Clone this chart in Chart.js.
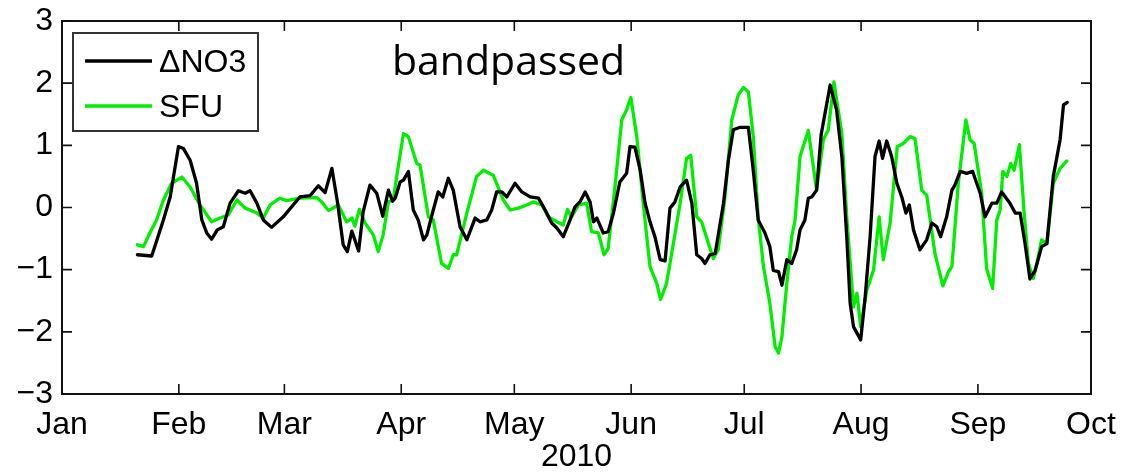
<!DOCTYPE html>
<html>
<head>
<meta charset="utf-8">
<script src="https://cdn.jsdelivr.net/npm/chart.js@4/dist/chart.umd.min.js"></script>
<style>
  html, body { margin: 0; padding: 0; background: #fff; }
  #wrap { width: 1126px; height: 474px; }
</style>
</head>
<body>
<div id="wrap"><canvas id="chart" width="1126" height="474"></canvas></div>
<script>
// Day-of-year positions (0 = 1 Jan 2010) of the month ticks and their labels
const monthTicks = [0, 31, 59, 90, 120, 151, 181, 212, 243, 273];
const monthLabels = ['Jan', 'Feb', 'Mar', 'Apr', 'May', 'Jun', 'Jul', 'Aug', 'Sep', 'Oct'];
const yearLabel = '2010';
const panelNote = 'bandpassed';

// Delta NO3, bandpassed anomaly
const no3Days = [
  20.0, 23.8, 26.9, 28.7, 30.9, 32.2, 34.0, 35.7, 37.1, 38.4, 39.7, 41.2, 42.8, 44.6, 46.8, 48.6,
  49.9, 51.7, 53.4, 55.6, 58.7, 63.1, 65.8, 68.0, 69.8, 71.6, 73.1, 74.6, 75.7, 76.9, 78.7, 79.9,
  81.7, 83.5, 85.1, 86.6, 87.7, 88.4, 89.7, 90.6, 91.9, 93.2, 94.5, 95.9, 96.8, 98.5, 99.8, 101.0,
  102.5, 103.8, 105.6, 107.4, 109.6, 110.9, 112.7, 114.0, 115.3, 116.7, 118.0, 120.2, 122.0, 124.2,
  126.4, 128.2, 129.9, 131.3, 133.0, 134.8, 136.1, 137.4, 138.8, 140.1, 141.0, 141.9, 143.6, 144.9,
  146.3, 148.0, 149.8, 150.7, 152.0, 153.4, 154.7, 156.0, 157.3, 158.7, 160.0, 161.3, 162.6, 164.0,
  165.7, 167.1, 168.4, 169.7, 170.6, 171.9, 173.3, 175.5, 176.8, 178.1, 179.9, 182.1, 183.4, 184.7,
  186.5, 187.8, 188.7, 190.1, 191.0, 192.3, 193.6, 194.9, 195.8, 197.1, 198.0, 198.9, 200.2, 201.4,
  203.8, 205.5, 206.9, 208.2, 209.1, 210.0, 211.9, 213.1, 214.4, 215.7, 216.8, 217.7, 218.8, 220.1,
  221.5, 222.8, 223.9, 224.8, 225.9, 227.6, 229.4, 230.8, 232.1, 233.1, 234.7, 236.1, 236.9, 238.3,
  240.0, 241.6, 243.6, 244.9, 246.7, 248.0, 249.3, 251.5, 252.9, 254.2, 255.5, 256.8, 258.2, 259.9,
  261.3, 263.0, 264.8, 265.7, 266.7
];
const no3Values = [
  -0.76, -0.78, -0.20, 0.17, 0.98, 0.95, 0.76, 0.39, -0.20, -0.41, -0.51, -0.36, -0.31, 0.07, 0.27, 0.23,
  0.27, 0.07, -0.20, -0.32, -0.15, 0.17, 0.19, 0.35, 0.24, 0.63, 0.08, -0.60, -0.71, -0.38, -0.70, -0.07,
  0.36, 0.23, -0.14, 0.28, 0.10, 0.15, 0.41, 0.44, 0.58, -0.04, -0.20, -0.52, -0.44, -0.04, 0.25, 0.17,
  0.47, 0.28, -0.31, -0.52, -0.17, -0.23, -0.20, -0.04, 0.25, 0.25, 0.17, 0.39, 0.25, 0.17,
  0.15, -0.04, -0.25, -0.33, -0.47, -0.20, 0.01, 0.09, 0.25, 0.09, -0.23, -0.17, -0.41, -0.39,
  -0.09, 0.41, 0.55, 0.98, 0.97, 0.60, 0.07, -0.23, -0.47, -0.84, -0.86, -0.01, 0.09, 0.33,
  0.44, 0.07, -0.76, -0.82, -0.90, -0.76, -0.74, 0.07, 0.76, 1.25, 1.29, 1.29, 0.60, -0.20,
  -0.41, -0.63, -1.01, -1.03, -1.25, -0.84, -0.90, -0.68, -0.36, -0.20, 0.15, 0.17, 0.28, 1.17,
  1.97, 1.57, 0.82, -0.47, -1.54, -1.92, -2.13, -1.43, -0.47, 0.82, 1.07, 0.79, 1.07, 0.82,
  0.39, 0.17, -0.09, 0.04, -0.36, -0.68, -0.52, -0.25, -0.31, -0.47, -0.15, 0.28, 0.36, 0.58,
  0.55, 0.58, 0.23, -0.15, 0.07, 0.07, 0.25, 0.07, -0.09, -0.09, -0.58, -1.15, -1.01, -0.63,
  -0.58, 0.50, 1.09, 1.65, 1.69
];

// SFU, bandpassed anomaly
const sfuDays = [
  20.0, 21.6, 23.3, 25.1, 26.9, 29.1, 31.8, 34.0, 36.6, 37.9, 39.7, 41.9, 44.1, 46.4, 48.6, 51.7,
  53.4, 55.2, 57.8, 59.6, 63.1, 67.6, 68.9, 70.7, 73.3, 75.5, 76.9, 77.7, 78.9, 80.4, 82.6, 83.9,
  85.2, 86.6, 87.9, 88.8, 90.6, 91.9, 94.1, 95.0, 97.2, 98.5, 100.7, 102.5, 103.8, 104.7, 107.4, 110.0,
  111.8, 114.4, 117.1, 118.9, 121.1, 123.3, 125.0, 127.3, 129.0, 131.3, 133.0, 134.1, 135.2, 137.0,
  139.2, 140.5, 142.3, 143.8, 144.9, 146.7, 148.5, 149.8, 150.9, 152.5, 154.2, 156.0, 157.8, 158.8,
  160.4, 162.2, 164.0, 165.7, 166.8, 168.4, 169.7, 171.5, 172.8, 174.1, 175.9, 177.7, 179.4, 180.8,
  182.1, 183.4, 184.7, 186.1, 187.8, 189.2, 190.1, 191.0, 192.3, 193.6, 194.5, 195.8, 198.0, 200.2,
  202.0, 203.3, 204.8, 206.9, 208.2, 210.0, 210.9, 211.9, 213.5, 215.3, 216.8, 217.9, 219.7, 221.6,
  223.2, 225.0, 226.3, 228.1, 229.4, 231.6, 233.7, 235.2, 236.1, 237.8, 239.8, 240.9, 242.0, 244.0,
  245.3, 246.9, 248.0, 248.9, 249.6, 250.7, 251.7, 252.6, 254.0, 255.2, 256.4, 257.7, 259.0, 259.9,
  261.3, 263.0, 264.8, 266.6
];
const sfuValues = [
  -0.60, -0.63, -0.41, -0.20, 0.12, 0.39, 0.49, 0.33, 0.04, -0.07, -0.23, -0.17, -0.12, 0.12, -0.01, -0.09,
  -0.17, 0.04, 0.15, 0.11, 0.15, 0.16, 0.09, -0.05, 0.04, -0.23, -0.17, -0.30, -0.03, -0.25, -0.44, -0.71,
  -0.44, 0.09, 0.12, 0.50, 1.19, 1.14, 0.71, 0.68, -0.15, -0.20, -0.90, -0.98, -0.76, -0.76, -0.09, 0.50,
  0.60, 0.52, 0.12, -0.04, -0.01, 0.04, 0.09, 0.04, -0.15, -0.23, -0.28, -0.03, -0.15, 0.04,
  0.07, -0.39, -0.41, -0.76, -0.66, 0.33, 1.41, 1.57, 1.77, 1.14, 0.07, -0.95, -1.22, -1.48,
  -1.22, -0.58, 0.07, 0.79, 0.84, -0.15, -0.23, -0.58, -0.82, -0.68, 0.17, 1.41, 1.81, 1.93,
  1.86, 1.14, -0.15, -0.95, -1.54, -2.24, -2.34, -2.08, -1.22, -0.47, -0.20, 0.82, 1.24, 0.28,
  1.09, 1.25, 2.02, 1.19, -0.15, -1.60, -1.38, -1.92, -1.33, -1.01, -0.15, -0.84, -0.25, 0.98,
  1.03, 1.14, 1.11, 0.28, 0.20, -0.74, -1.26, -1.03, -0.95, 0.39, 1.41, 1.09, 1.03, 0.23,
  -0.98, -1.30, -0.20, -0.04, 0.58, 0.50, 0.71, 0.60, 1.01, -0.04, -0.90, -1.14, -0.79, -0.52,
  -0.58, 0.39, 0.63, 0.75
];

const axisFont = { family: "'Liberation Sans', Arial, Helvetica, sans-serif", size: 32 };

function toPoints(xs, ys) {
  return xs.map((x, i) => ({ x: x, y: ys[i] }));
}

// Axes box with inward-pointing ticks on all four sides, plus boxed legend and panel note
const framePlugin = {
  id: 'frame',
  afterDatasetsDraw(chart) {
    const ctx = chart.ctx;
    const a = chart.chartArea;
    const xs = chart.scales.x;
    const ys = chart.scales.y;
    const tick = 10;
    ctx.save();
    ctx.strokeStyle = '#111';
    ctx.lineWidth = 2;
    ctx.strokeRect(a.left, a.top, a.right - a.left, a.bottom - a.top);
    ctx.lineWidth = 1.6;
    ctx.beginPath();
    xs.ticks.forEach(t => {
      const px = xs.getPixelForValue(t.value);
      ctx.moveTo(px, a.bottom); ctx.lineTo(px, a.bottom - tick);
      ctx.moveTo(px, a.top); ctx.lineTo(px, a.top + tick);
    });
    ys.ticks.forEach(t => {
      const py = ys.getPixelForValue(t.value);
      ctx.moveTo(a.left, py); ctx.lineTo(a.left + tick, py);
      ctx.moveTo(a.right, py); ctx.lineTo(a.right - tick, py);
    });
    ctx.stroke();

    // legend
    const lx = a.left + 11, ly = a.top + 12, lw = 185, lh = 98;
    ctx.fillStyle = '#fff';
    ctx.fillRect(lx, ly, lw, lh);
    ctx.strokeStyle = '#333';
    ctx.lineWidth = 2;
    ctx.strokeRect(lx, ly, lw, lh);
    ctx.font = "32px 'Liberation Sans', Arial, sans-serif";
    ctx.textBaseline = 'alphabetic';
    ctx.textAlign = 'left';
    chart.data.datasets.forEach((ds, i) => {
      const rowY = ly + 28 + i * 45;
      ctx.strokeStyle = ds.borderColor;
      ctx.lineWidth = 3.3;
      ctx.beginPath();
      ctx.moveTo(lx + 12, rowY);
      ctx.lineTo(lx + 79, rowY);
      ctx.stroke();
      ctx.fillStyle = '#000';
      ctx.fillText(ds.label, lx + 86, rowY + 11);
    });

    // panel note
    ctx.font = "41px 'Open Sans', sans-serif";
    ctx.fillStyle = '#000';
    ctx.fillText(panelNote, a.left + 330, a.top + 54);
    ctx.restore();
  }
};

new Chart(document.getElementById('chart'), {
  type: 'line',
  data: {
    datasets: [
      {
        label: '\u0394NO3',
        data: toPoints(no3Days, no3Values),
        borderColor: '#000000',
        borderWidth: 3.3,
        pointRadius: 0,
        tension: 0,
        borderJoinStyle: 'round',
        borderCapStyle: 'round'
      },
      {
        label: 'SFU',
        data: toPoints(sfuDays, sfuValues),
        borderColor: '#00ee00',
        borderWidth: 3.3,
        pointRadius: 0,
        tension: 0,
        borderJoinStyle: 'round',
        borderCapStyle: 'round'
      }
    ]
  },
  options: {
    responsive: false,
    animation: false,
    devicePixelRatio: 1,
    layout: { padding: { left: 0, right: 35, top: 21, bottom: 0 } },
    plugins: {
      legend: { display: false },
      tooltip: { enabled: false }
    },
    scales: {
      x: {
        type: 'linear',
        min: monthTicks[0],
        max: monthTicks[monthTicks.length - 1],
        afterBuildTicks(scale) {
          scale.ticks = monthTicks.map(v => ({ value: v }));
        },
        afterFit(scale) {
          scale.height = 80;
          scale.paddingLeft = 0;
          scale.paddingRight = 0;
        },
        grid: { display: false, drawTicks: false },
        border: { display: false },
        ticks: {
          autoSkip: false,
          maxRotation: 0,
          padding: 12,
          color: '#000',
          font: axisFont,
          callback: (v) => monthLabels[monthTicks.indexOf(v)]
        },
        title: {
          display: true,
          text: yearLabel,
          color: '#000',
          font: axisFont,
          padding: { top: 0, bottom: -2 }
        }
      },
      y: {
        min: -3,
        max: 3,
        afterFit(scale) {
          scale.width = 62;
          scale.paddingTop = 0;
          scale.paddingBottom = 0;
        },
        grid: { display: false, drawTicks: false },
        border: { display: false },
        ticks: {
          stepSize: 1,
          padding: 9,
          color: '#000',
          font: axisFont,
          callback: (v) => (v < 0 ? '\u2212' + Math.abs(v) : String(v))
        }
      }
    }
  },
  plugins: [framePlugin]
});
</script>
</body>
</html>
